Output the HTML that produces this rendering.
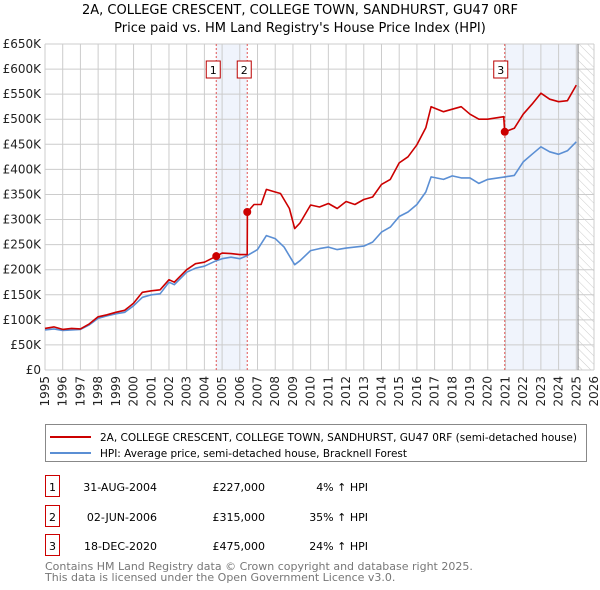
<!DOCTYPE html>
<html><head><meta charset="utf-8"><style>
body{margin:0;background:#fff;font-family:"Liberation Sans","DejaVu Sans",sans-serif;}
#wrap{position:relative;width:600px;height:590px;overflow:hidden}
svg text{font-family:"DejaVu Sans","Liberation Sans",sans-serif}
</style></head><body><div id="wrap">
<svg id="chart" width="600" height="590"></svg>
</div>
<script>
const hpiYears=[1995,1995.5,1996,1996.5,1997,1997.5,1998,1998.5,1999,1999.5,2000,2000.5,2001,2001.5,2002,2002.3,2003,2003.5,2004,2004.67,2005,2005.5,2006,2006.42,2007,2007.5,2008,2008.5,2009.1,2009.4,2010,2010.5,2011,2011.5,2012,2012.5,2013,2013.5,2014,2014.5,2015,2015.5,2016,2016.5,2016.8,2017.5,2018,2018.5,2019,2019.5,2020,2020.96,2021.5,2022,2022.5,2023,2023.5,2024,2024.5,2025];
const hpiValues=[80,82,79,80,81,90,103,108,112,115,128,145,150,152,175,170,195,203,207,218,222,225,222,228,240,268,262,245,210,218,238,242,245,240,243,245,247,255,275,285,306,315,330,355,385,380,387,383,383,372,380,385,388,415,430,445,435,430,437,455];
const priceYears=[1995,1995.5,1996,1996.5,1997,1997.5,1998,1998.5,1999,1999.5,2000,2000.5,2001,2001.5,2002,2002.3,2003,2003.5,2004,2004.67,2005,2005.5,2006,2006.42,2006.43,2006.8,2007.2,2007.5,2008,2008.3,2008.8,2009.1,2009.4,2010,2010.5,2011,2011.5,2012,2012.5,2013,2013.5,2014,2014.5,2015,2015.5,2016,2016.5,2016.8,2017.5,2018,2018.5,2019,2019.5,2020,2020.9,2020.96,2021.5,2022,2022.5,2023,2023.5,2024,2024.5,2025];
const priceValues=[83,86,81,83,82,92,106,110,115,119,133,155,158,160,180,175,200,212,215,227,233,232,230,230,315,330,330,360,355,352,322,282,293,329,325,332,322,336,330,340,345,370,380,413,425,449,483,525,515,520,525,510,500,500,505,475,482,510,530,552,540,535,537,568];
const yTicks=[0,50,100,150,200,250,300,350,400,450,500,550,600,650];
const xTicks=[1995,1996,1997,1998,1999,2000,2001,2002,2003,2004,2005,2006,2007,2008,2009,2010,2011,2012,2013,2014,2015,2016,2017,2018,2019,2020,2021,2022,2023,2024,2025,2026];
const saleYears=[2004.67,2006.42,2020.96];
const saleValues=[227,315,475];
const saleLabels=["1","2","3"];

const NS="http://www.w3.org/2000/svg",svg=document.getElementById('chart');
const X0=45,X1=594,Y0=370,Y1=44;
const xs=y=>X0+(y-1995)/(2026-1995)*(X1-X0);
const ys=v=>Y0-v/650*(Y0-Y1);
function el(t,a,p){const e=document.createElementNS(NS,t);for(const k in a)e.setAttribute(k,a[k]);(p||svg).appendChild(e);return e;}
function txt(s,a){const e=el('text',a);e.textContent=s;return e;}

const defs=el('defs',{});
const pat=el('pattern',{id:'hatch',width:6,height:6,patternUnits:'userSpaceOnUse',patternTransform:'rotate(-45)'},defs);
el('line',{x1:0,y1:0,x2:0,y2:6,stroke:'#ccc','stroke-width':1},pat);

let r=el('rect',{x:X0,y:Y1,width:X1-X0,height:Y0-Y1,fill:'#fff',stroke:'none'});

r=el('rect',{x:xs(saleYears[0]),y:Y1,width:xs(saleYears[1])-xs(saleYears[0]),height:Y0-Y1,fill:'#f0f4fc'});

r=el('rect',{x:xs(saleYears[2]),y:Y1,width:xs(2025.1)-xs(saleYears[2]),height:Y0-Y1,fill:'#f0f4fc'});

r=el('rect',{x:xs(2025.1),y:Y1,width:X1-xs(2025.1),height:Y0-Y1,fill:'url(#hatch)'});


yTicks.forEach(v=>{
 const l=el('line',{x1:X0,x2:X1,y1:ys(v),y2:ys(v),stroke:'#ccc','stroke-width':1});
 
 const t=txt(v===0?'£0':'£'+v+'K',{x:X0-4,y:ys(v)+4,'text-anchor':'end','font-size':12,fill:'#222'});
 
});
xTicks.forEach(y=>{
 const l=el('line',{x1:xs(y),x2:xs(y),y1:Y1,y2:Y0,stroke:'#ccc','stroke-width':1});
 
 const t=txt(String(y),{transform:`translate(${xs(y)+4},${Y0+6}) rotate(-90)`,'text-anchor':'end','font-size':12,fill:'#222'});
 
});
let l=el('line',{x1:xs(2025.1),x2:xs(2025.1),y1:Y1,y2:Y0,stroke:'#888','stroke-width':1});


saleYears.forEach((y,i)=>{
 const d=el('line',{x1:xs(y),x2:xs(y),y1:Y1,y2:Y0,stroke:'#e05555','stroke-width':1,'stroke-dasharray':'2,2'});
 
});

function path(xa,va,col,name){
 const p=el('path',{d:xa.map((x,i)=>(i?'L':'M')+xs(x).toFixed(1)+','+ys(va[i]).toFixed(1)).join(''),fill:'none',stroke:col,'stroke-width':1.6,'stroke-linejoin':'round'});
 
}
path(hpiYears,hpiValues,'#5b8fd4','hpi-line');
path(priceYears,priceValues,'#cc0000','price-line');

saleYears.forEach((y,i)=>{
 const c=el('circle',{cx:xs(y),cy:ys(saleValues[i]),r:4,fill:'#cc0000'});
 
 const bx=xs(y)-7-(i<2?3:4);
 const b=el('rect',{x:bx,y:61,width:14,height:17,fill:'#fff',stroke:'#b00','stroke-width':1});
 
 const t=txt(saleLabels[i],{x:bx+7,y:74,'text-anchor':'middle','font-size':11,fill:'#000'});
 
});

let t=txt('2A, COLLEGE CRESCENT, COLLEGE TOWN, SANDHURST, GU47 0RF',{x:300,y:14,'text-anchor':'middle','font-size':13,fill:'#000'});

t=txt("Price paid vs. HM Land Registry's House Price Index (HPI)",{x:300,y:32,'text-anchor':'middle','font-size':13,fill:'#000'});


r=el('rect',{x:45.5,y:424.5,width:541,height:37,fill:'#fff',stroke:'#888','stroke-width':1});

l=el('line',{x1:50,x2:91,y1:437,y2:437,stroke:'#cc0000','stroke-width':2});

t=txt('2A, COLLEGE CRESCENT, COLLEGE TOWN, SANDHURST, GU47 0RF (semi-detached house)',{x:100,y:441,'font-size':11,fill:'#000',textLength:477,lengthAdjust:'spacingAndGlyphs'});

l=el('line',{x1:50,x2:91,y1:453,y2:453,stroke:'#5b8fd4','stroke-width':2});

t=txt('HPI: Average price, semi-detached house, Bracknell Forest',{x:100,y:457,'font-size':11,fill:'#000',textLength:307,lengthAdjust:'spacingAndGlyphs'});


const rows=[["1","31-AUG-2004","£227,000","4% ↑ HPI"],["2","02-JUN-2006","£315,000","35% ↑ HPI"],["3","18-DEC-2020","£475,000","24% ↑ HPI"]];
const rowY=[487,517,546];
rows.forEach((rw,i)=>{
 const b=el('rect',{x:45.5,y:rowY[i]-11.5,width:14,height:21,fill:'#fff',stroke:'#cc0000','stroke-width':1});
 
 let a=txt(rw[0],{x:52.5,y:rowY[i]+4,'text-anchor':'middle','font-size':11});
 
 a=txt(rw[1],{x:157,y:rowY[i]+4,'text-anchor':'end','font-size':11});
 
 a=txt(rw[2],{x:265,y:rowY[i]+4,'text-anchor':'end','font-size':11});
 
 a=txt(rw[3],{x:368,y:rowY[i]+4,'text-anchor':'end','font-size':11});
 
});
t=txt('Contains HM Land Registry data © Crown copyright and database right 2025.',{x:45,y:570,'font-size':11,fill:'#777'});

t=txt('This data is licensed under the Open Government Licence v3.0.',{x:45,y:581,'font-size':11,fill:'#777'});

</script></body></html>
